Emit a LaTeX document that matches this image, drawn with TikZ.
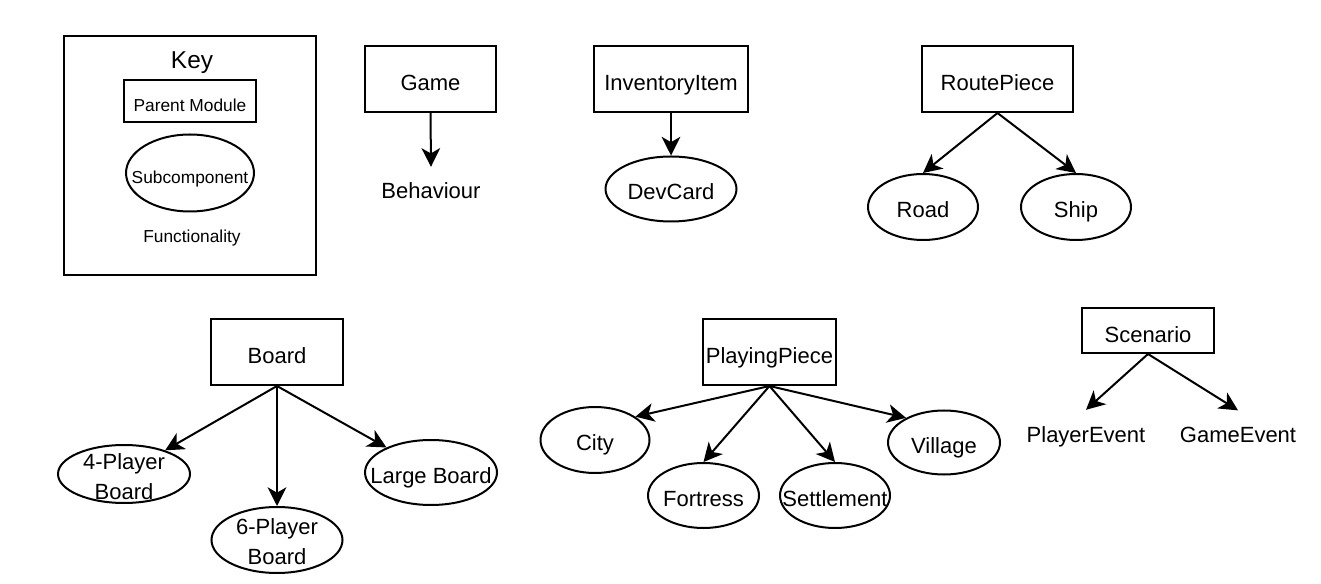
\documentclass[tikz,border=0pt]{standalone}
\usepackage{fontspec}
\setmainfont{Liberation Sans}
\usetikzlibrary{shapes.geometric,arrows.meta}
\newcommand\zc[1]{\makebox[0pt]{#1}}
\newcommand\myfmain{\fontsize{16.5}{19.8}\selectfont}
\newcommand\myftwo{\fontsize{16.5}{22.5}\selectfont}
\newcommand\myfsmall{\fontsize{13}{15.6}\selectfont}
\newcommand\myfkey{\fontsize{18.3}{22}\selectfont}
\newcommand\twoline[3]{\zc{\raisebox{#1}[0pt][0pt]{\begin{tabular}[t]{@{}c@{}}#2\\#3\end{tabular}}}}
\begin{document}
\begin{tikzpicture}[x=0.75pt,y=-0.75pt,
  box/.style={draw, line width=1.5pt, rectangle, inner sep=0pt, text height=17.8pt, text depth=0pt, font=\myfmain},
  ell/.style={draw, line width=1.5pt, ellipse, inner sep=0pt, font=\myfmain},
  ellt/.style={ell, text height=15.8pt, text depth=0pt},
  elltwo/.style={ell, font=\myftwo},
  plain/.style={inner xsep=0pt, inner ysep=12pt, anchor=base, font=\myfmain},
  arr/.style={line width=1.5pt, -{Stealth[length=14pt,width=14pt,inset=4pt]}}]
\fill[white] (0,0) rectangle (1321,584);
\useasboundingbox (0,0) rectangle (1321,584);

% Key
\node[draw, line width=1.5pt, inner sep=0pt, minimum width=189pt, minimum height=179.25pt] (keybox) at (190,155.5) {};
\node[anchor=base, inner sep=0pt, font=\myfkey] (keyt) at (192,69) {Key};
\node[box, font=\myfsmall, text height=15.3pt, minimum width=99pt, minimum height=31.5pt] (pmod) at (190,101) {Parent Module};
\node[ell, font=\myfsmall, text height=15.3pt, text depth=0pt, minimum width=96pt, minimum height=57.75pt] (subc) at (190,173) {\zc{Subcomponent}};
\node[anchor=base, inner sep=0pt, font=\myfsmall] (func) at (192,243) {Functionality};

% Game
\node[box, minimum width=98.25pt, minimum height=49.5pt] (game) at (430.5,79) {Game};
\node[plain] (behav) at (431,199) {Behaviour};
\draw[arr] (game.south) -- (behav.north);

% InventoryItem
\node[box, minimum width=115.5pt, minimum height=49.5pt] (inv) at (671,79) {InventoryItem};
\node[ellt, minimum width=98.25pt, minimum height=48.75pt] (devc) at (671,189) {\zc{DevCard}};
\draw[arr] (inv.south) -- (devc.north);

% RoutePiece
\node[box, minimum width=113.25pt, minimum height=49.5pt] (route) at (997.5,79) {RoutePiece};
\node[ellt, minimum width=82.5pt, minimum height=49.5pt] (road) at (923,207) {\zc{Road}};
\node[ellt, minimum width=82.5pt, minimum height=49.5pt] (ship) at (1076,207) {\zc{Ship}};
\draw[arr] (route.south) -- (road.north);
\draw[arr] (route.south) -- (ship.north);

% Board
\node[box, minimum width=99pt, minimum height=49.5pt] (board) at (277,352) {Board};
\node[elltwo, minimum width=99pt, minimum height=43.5pt] (p4) at (124,474) {\twoline{3pt}{4-Player}{Board}};
\node[elltwo, minimum width=98.25pt, minimum height=49.5pt] (p6) at (277,540) {\twoline{4.5pt}{6-Player}{Board}};
\node[ellt, minimum width=99pt, minimum height=48.75pt] (large) at (431,472.5) {\zc{Large Board}};
\draw[arr] (board.south) -- (p4);
\draw[arr] (board.south) -- (p6.north);
\draw[arr] (board.south) -- (large);

% PlayingPiece
\node[box, minimum width=99.75pt, minimum height=49.5pt] (ppiece) at (769.5,352) {PlayingPiece};
\node[ellt, minimum width=81.75pt, minimum height=49.5pt] (city) at (595,440) {\zc{City}};
\node[ellt, minimum width=83.25pt, minimum height=48.75pt] (fort) at (703.5,495.5) {\zc{Fortress}};
\node[ellt, minimum width=82.5pt, minimum height=48.75pt] (sett) at (835,495.5) {\zc{Settlement}};
\node[ellt, minimum width=84pt, minimum height=48pt] (vill) at (944,442.5) {\zc{Village}};
\draw[arr] (ppiece.south) -- (city.30);
\draw[arr] (ppiece.south) -- (fort.north);
\draw[arr] (ppiece.south) -- (sett.north);
\draw[arr] (ppiece.south) -- (vill.147);

% Scenario
\node[box, minimum width=99pt, minimum height=33.75pt] (scen) at (1148,330.5) {Scenario};
\node[plain] (pev) at (1086,442) {PlayerEvent};
\node[plain] (gev) at (1238,442) {GameEvent};
\draw[arr] (scen.south) -- (pev.north);
\draw[arr] (scen.south) -- (gev.north);
\end{tikzpicture}
\end{document}
